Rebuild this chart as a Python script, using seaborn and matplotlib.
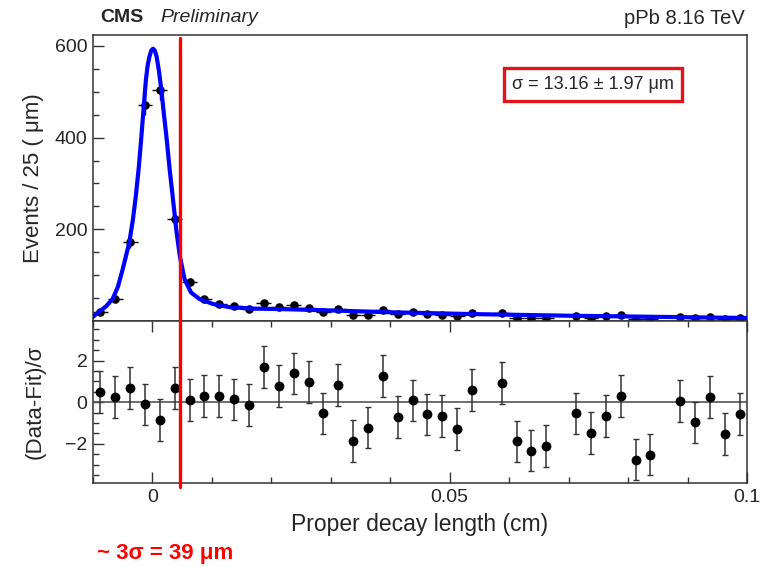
import numpy as np
import matplotlib
matplotlib.use("Agg")
import matplotlib.pyplot as plt
import matplotlib.transforms as mtransforms
from matplotlib.lines import Line2D
from matplotlib.ticker import MultipleLocator, FixedLocator
import seaborn as sns

# ---------------- data ----------------
bin_centers = [-0.00875, -0.00625, -0.00375, -0.00125, 0.00125, 0.00375, 0.00625,
               0.00875, 0.01125, 0.01375, 0.01625, 0.01875, 0.02125, 0.02375,
               0.02625, 0.02875, 0.03125, 0.03375, 0.03625, 0.03875, 0.04125,
               0.04375, 0.04625, 0.04875, 0.05125, 0.05375, 0.05875, 0.06125,
               0.06375, 0.06625, 0.07125, 0.07375, 0.07625, 0.07875, 0.08125,
               0.08375, 0.08875, 0.09125, 0.09375, 0.09625, 0.09875]
counts = [20, 48, 172, 472, 504, 222, 85,
          47, 38, 33, 27, 39, 31, 34,
          29, 20, 27, 12, 13, 25, 16,
          19, 15, 13, 11, 17, 18, 7,
          6, 6, 10, 7, 10, 12, 4,
          5, 9, 6, 8, 5, 6]
pulls = [0.49, 0.25, 0.67, -0.11, -0.86, 0.67, 0.10,
         0.30, 0.30, 0.13, -0.14, 1.70, 0.78, 1.38,
         0.97, -0.54, 0.81, -1.86, -1.22, 1.25, -0.71,
         0.08, -0.59, -0.67, -1.29, 0.57, 0.92, -1.89,
         -2.33, -2.10, -0.54, -1.49, -0.68, 0.30, -2.76,
         -2.52, 0.05, -0.97, 0.24, -1.54, -0.56]
pull_err = [1.0] * len(pulls)
bin_half_width = 0.00125

fit_x = [-0.0101, -0.009, -0.0078, -0.0067, -0.0058, -0.005, -0.0039, -0.0033, -0.0028,
         -0.0023, -0.0019, -0.0015, -0.0011, -0.0008, -0.0005, -0.0002, 0.0001,
         0.0004, 0.0007, 0.0011, 0.0015, 0.0019, 0.0024, 0.0029, 0.0034, 0.004,
         0.0046, 0.0054, 0.0065, 0.0079, 0.0102, 0.013, 0.017, 0.0215, 0.03,
         0.04, 0.054, 0.07, 0.085, 0.1]
fit_y = [8, 20, 32, 48, 75, 113, 171, 220, 272,
         335, 396, 462, 526, 558, 577, 590, 594,
         590, 577, 545, 504, 455, 396, 330, 272, 200,
         142, 91, 62, 48, 37, 30, 27, 26, 23,
         19, 15, 11.5, 9, 6.5]

red_line_x = 0.0046
x_ticks = [0, 0.05, 0.1]
x_tick_labels = ["0", "0.05", "0.1"]
top_y_ticks = [200, 400, 600]
bot_y_ticks = [-2, 0, 2]

# ---------------- style ----------------
sns.set_theme(style="ticks")
plt.rcParams["font.family"] = ["Liberation Sans", "DejaVu Sans"]
plt.rcParams["xtick.direction"] = "in"
plt.rcParams["ytick.direction"] = "in"

fig = plt.figure(figsize=(7.66, 5.67), dpi=100)
fig.patch.set_facecolor("white")
ax1 = fig.add_axes([0.1214, 0.4339, 0.8538, 0.5044])
ax2 = fig.add_axes([0.1214, 0.1476, 0.8538, 0.2863], sharex=ax1)

# ---------------- top panel ----------------
cnt = np.array(counts, dtype=float)
ax1.errorbar(bin_centers, counts, xerr=bin_half_width, yerr=np.sqrt(cnt),
             fmt="none", ecolor="black", elinewidth=1.0, capsize=0, zorder=3)
sns.scatterplot(x=bin_centers, y=counts, ax=ax1, color="black", s=38,
                edgecolor="black", linewidth=0, zorder=4, legend=False)
sns.lineplot(x=fit_x, y=fit_y, ax=ax1, sort=False, color="#0000ff",
             linewidth=3.0, zorder=5, legend=False)

ax1.set_xlim(-0.01, 0.1)
ax1.set_ylim(0, 624)
ax1.yaxis.set_major_locator(FixedLocator(top_y_ticks))
ax1.yaxis.set_minor_locator(MultipleLocator(50))
ax1.set_ylabel("Events / 25 ( μm)", fontsize=16, labelpad=8)
ax1.tick_params(axis="y", which="major", length=8, width=1, labelsize=14, pad=4, color="#333333")
ax1.tick_params(axis="y", which="minor", length=4.5, width=1, color="#333333")
ax1.tick_params(axis="x", which="both", length=0, labelbottom=False)

fig.text(100 / 766, 1 - 18 / 567, "CMS", fontsize=14, fontweight="bold",
         ha="left", va="center")
fig.text(160 / 766, 1 - 18 / 567, "Preliminary", fontsize=14, style="italic",
         ha="left", va="center")
fig.text(745 / 766, 1 - 18 / 567, "pPb 8.16 TeV", fontsize=14.5,
         ha="right", va="center")

ax1.text(0.765, 0.827, "σ = 13.16 ± 1.97 μm", transform=ax1.transAxes,
         fontsize=13, ha="center", va="center",
         bbox=dict(boxstyle="square,pad=0.45", facecolor="white",
                   edgecolor="#e0141a", linewidth=2.4))

# ---------------- bottom panel ----------------
ax2.axhline(0, color="#555555", linewidth=1.2, zorder=1)
ax2.errorbar(bin_centers, pulls, yerr=pull_err, fmt="none", ecolor="#333333",
             elinewidth=1.1, capsize=2.2, capthick=1.0, zorder=3)
sns.scatterplot(x=bin_centers, y=pulls, ax=ax2, color="black", s=50,
                edgecolor="black", linewidth=0, zorder=4, legend=False)
ax2.set_ylim(-3.9, 3.9)
ax2.yaxis.set_major_locator(FixedLocator(bot_y_ticks))
ax2.yaxis.set_minor_locator(MultipleLocator(0.5))
ax2.xaxis.set_major_locator(FixedLocator(x_ticks))
ax2.xaxis.set_minor_locator(MultipleLocator(0.01))
ax2.set_xticklabels(x_tick_labels)
ax2.set_xlim(-0.01, 0.1)
ax2.set_ylabel("(Data-Fit)/σ", fontsize=16, labelpad=14)
ax2.set_xlabel("Proper decay length (cm)", fontsize=16.5, labelpad=5)
ax2.tick_params(axis="both", which="major", length=8, width=1, labelsize=14, pad=4,
                color="#333333")
ax2.tick_params(axis="both", which="minor", length=4.5, width=1, color="#333333")
ax2.tick_params(axis="x", which="both", top=True)

for ax in (ax1, ax2):
    for sp in ax.spines.values():
        sp.set_color("#333333")
        sp.set_linewidth(1.1)
    ax.set_facecolor("white")

# ---------------- red marker line and annotation ----------------
trans = mtransforms.blended_transform_factory(ax1.transData, fig.transFigure)
fig.add_artist(Line2D([red_line_x, red_line_x], [1 - 38 / 567, 1 - 487 / 567],
                      transform=trans, color="#ff0000", linewidth=2.4, zorder=10))
fig.text(97 / 766, 1 - 553 / 567, "~ 3σ = 39 μm", fontsize=16,
         fontweight="bold", color="#ff0000", ha="left", va="center")

fig.savefig("out.png", dpi=100, facecolor="white")
